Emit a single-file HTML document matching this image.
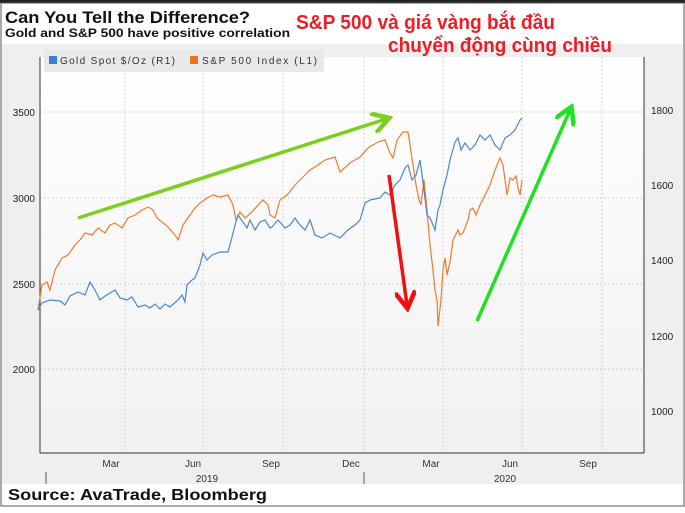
<!DOCTYPE html>
<html><head><meta charset="utf-8"><style>
body{margin:0;width:685px;height:508px;overflow:hidden;background:#fff;font-family:"Liberation Sans","DejaVu Sans",sans-serif}
</style></head><body>
<svg width="685" height="508" xmlns="http://www.w3.org/2000/svg" font-family="Liberation Sans, DejaVu Sans, sans-serif">
<defs><linearGradient id="g" x1="0" y1="0" x2="0" y2="1"><stop offset="0" stop-color="#ffffff"/><stop offset="1" stop-color="#f1f1f1"/></linearGradient>
<marker id="ah" markerWidth="6" markerHeight="6" refX="4" refY="3" orient="auto"><path d="M0,0 L5,3 L0,6" fill="none" stroke="context-stroke" stroke-width="1.3"/></marker></defs>
<rect x="0" y="0" width="685" height="508" fill="#fff"/>
<rect x="0" y="0" width="685" height="3" fill="#222"/>
<rect x="1" y="3" width="683" height="503" fill="none" stroke="#555" stroke-width="1"/>
<rect x="2" y="44" width="681" height="440" fill="#efefef"/>
<rect x="40" y="57" width="604" height="395" fill="url(#g)"/>
<g stroke="#c8c8c8" stroke-dasharray="1.5,2.5" stroke-width="1">
<line x1="40" x2="644" y1="112" y2="112"/><line x1="40" x2="644" y1="198" y2="198"/><line x1="40" x2="644" y1="284" y2="284"/><line x1="40" x2="644" y1="369" y2="369"/>
<line x1="125" x2="125" y1="57" y2="452"/><line x1="203" x2="203" y1="57" y2="452"/><line x1="283" x2="283" y1="57" y2="452"/><line x1="364" x2="364" y1="57" y2="452"/><line x1="443" x2="443" y1="57" y2="452"/><line x1="522" x2="522" y1="57" y2="452"/><line x1="602" x2="602" y1="57" y2="452"/>
</g>
<g stroke="#333" stroke-width="1"><line x1="40" y1="57" x2="40" y2="453"/><line x1="644" y1="57" x2="644" y2="453"/><line x1="40" y1="453" x2="644" y2="453"/></g>
<rect x="44" y="50" width="280" height="22" fill="#e9e9e9"/>
<rect x="49" y="56" width="8" height="8" fill="#3b7dd8"/><text x="60" y="64" font-size="10" fill="#333" textLength="115">Gold Spot $/Oz  (R1)</text>
<rect x="190" y="56" width="8" height="8" fill="#f07020"/><text x="202" y="64" font-size="10" fill="#333" textLength="115">S&amp;P 500 Index  (L1)</text>
<g font-size="10" fill="#222" text-anchor="end"><text x="35" y="116">3500</text><text x="35" y="202">3000</text><text x="35" y="288">2500</text><text x="35" y="373">2000</text></g>
<g font-size="10" fill="#222"><text x="651" y="114">1800</text><text x="651" y="189">1600</text><text x="651" y="264">1400</text><text x="651" y="340">1200</text><text x="651" y="415">1000</text></g>
<g font-size="10" fill="#333" text-anchor="middle"><text x="111" y="467">Mar</text><text x="193" y="467">Jun</text><text x="271" y="467">Sep</text><text x="351" y="467">Dec</text><text x="431" y="467">Mar</text><text x="510" y="467">Jun</text><text x="588" y="467">Sep</text><text x="207" y="482">2019</text><text x="505" y="482">2020</text></g>
<g stroke="#555"><line x1="46" y1="472" x2="46" y2="484"/><line x1="364" y1="472" x2="364" y2="484"/></g>
<polyline fill="none" stroke="#f07a30" stroke-width="1.2" points="38,310 42,285 47,282 50,290 55,270 62,258 68,255 75,245 80,240 85,233 92,235 98,228 105,233 110,225 115,223 122,228 128,218 135,215 142,210 148,207 153,210 157,218 162,222 167,226 175,235 178,240 183,225 190,215 195,208 200,203 207,198 213,195 220,197 228,195 233,205 236,220 240,212 245,218 252,212 258,205 263,200 268,205 270,215 275,218 280,200 287,195 295,185 302,178 310,170 318,165 325,160 335,157 340,172 350,163 360,157 368,148 378,142 385,140 390,153 393,158 397,140 403,132 408,132 410,145 413,165 416,185 419,200 421,205 424,180 427,210 430,245 433,270 435,290 437,300 438,326 441,300 443,270 445,258 447,275 450,262 453,240 458,230 460,235 463,233 468,220 470,210 473,208 476,215 480,205 485,195 490,185 495,170 500,158 503,165 505,180 507,195 510,178 513,180 516,176 518,188 520,195 522,180"/>
<polyline fill="none" stroke="#4a86cf" stroke-width="1.2" points="38,310 42,303 50,300 60,301 65,305 70,296 78,292 85,295 90,282 95,290 100,300 105,296 110,293 115,290 120,298 127,300 132,297 138,307 145,305 150,308 155,304 160,309 165,304 170,307 178,300 182,295 185,302 187,285 192,280 195,278 200,265 203,253 207,260 212,255 220,252 228,252 232,237 235,225 238,215 243,222 247,228 250,220 255,230 260,222 265,220 270,228 272,227 278,220 285,228 290,225 295,218 300,225 305,230 310,220 315,235 322,238 330,233 340,238 348,230 355,225 360,220 365,203 370,200 380,198 385,192 390,195 395,185 400,180 405,168 408,165 412,180 416,175 420,160 424,190 427,215 430,218 433,225 435,230 438,210 440,205 443,190 447,175 450,160 455,142 458,138 461,150 465,143 470,150 475,145 480,135 485,140 490,135 495,145 500,150 505,138 510,135 515,130 520,120 522,118"/>
<line x1="78" y1="218" x2="386" y2="119" stroke="#7ccf1c" stroke-width="3.5" marker-end="url(#ah)"/>
<line x1="389" y1="175" x2="407" y2="305" stroke="#f01010" stroke-width="3.5" marker-end="url(#ah)"/>
<line x1="477" y1="321" x2="570" y2="110" stroke="#22e022" stroke-width="3.5" marker-end="url(#ah)"/>
<text x="5" y="23" font-size="17" font-weight="bold" fill="#111" textLength="245" lengthAdjust="spacingAndGlyphs">Can You Tell the Difference?</text>
<text x="5" y="37" font-size="11.5" font-weight="bold" fill="#111" textLength="285" lengthAdjust="spacingAndGlyphs">Gold and S&amp;P 500 have positive correlation</text>
<text x="296" y="29" font-size="20" font-weight="bold" fill="#ee1c25" textLength="259" lengthAdjust="spacingAndGlyphs">S&amp;P 500 và giá vàng bắt đầu</text>
<text x="388" y="52" font-size="20" font-weight="bold" fill="#ee1c25" textLength="224" lengthAdjust="spacingAndGlyphs">chuyển động cùng chiều</text>
<text x="8" y="500" font-size="16" font-weight="bold" fill="#111" textLength="259" lengthAdjust="spacingAndGlyphs">Source: AvaTrade, Bloomberg</text>
</svg>
</body></html>
